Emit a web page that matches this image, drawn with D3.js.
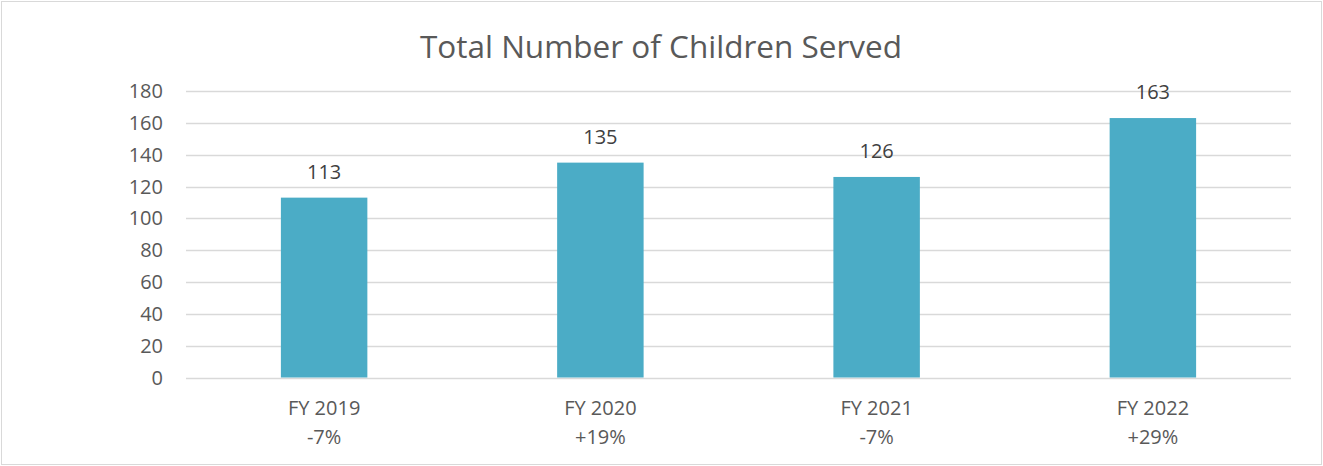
<!DOCTYPE html>
<html>
<head>
<meta charset="utf-8">
<script src="https://cdn.jsdelivr.net/npm/d3@7"></script>
<style>
  html, body { margin: 0; padding: 0; background: #fff; }
  svg { display: block; font-family: "Open Sans", sans-serif; }
</style>
</head>
<body>
<div id="chart"></div>
<script>
const categories = [`FY 2019`, `FY 2020`, `FY 2021`, `FY 2022`];
const changes = [`-7%`, `+19%`, `-7%`, `+29%`];
const children = [113, 135, 126, 163];
const yTicks = [0, 20, 40, 60, 80, 100, 120, 140, 160, 180];

const width = 1323;
const height = 466;
const margin = { top: 91, right: 32, bottom: 89, left: 186 };
const textColor = `#595959`;

const svg = d3.select(`#chart`).append(`svg`)
    .attr(`width`, width)
    .attr(`height`, height);

// chart area border
svg.append(`rect`)
    .attr(`x`, 1.5).attr(`y`, 1.5)
    .attr(`width`, width - 3).attr(`height`, height - 3)
    .attr(`fill`, `#fff`)
    .attr(`stroke`, `#d9d9d9`);

svg.append(`text`)
    .attr(`x`, 661).attr(`y`, 58)
    .attr(`text-anchor`, `middle`)
    .attr(`fill`, textColor)
    .attr(`font-size`, 31.5)
    .text(`Total Number of Children Served`);

const x = d3.scaleBand()
    .domain(categories)
    .range([margin.left, width - margin.right]);

const y = d3.scaleLinear()
    .domain([0, 180])
    .range([height - margin.bottom + 0.5, margin.top]);

const g = svg.append(`g`);

// gridlines
g.append(`g`)
    .selectAll(`line`)
    .data(yTicks)
  .enter().append(`line`)
    .attr(`x1`, margin.left)
    .attr(`x2`, width - margin.right)
    .attr(`y1`, (d) => Math.round(y(d)) + 0.5)
    .attr(`y2`, (d) => Math.round(y(d)) + 0.5)
    .attr(`stroke`, `#d9d9d9`)
    .attr(`stroke-width`, 1.3);

// y tick labels
g.append(`g`)
    .selectAll(`text`)
    .data(yTicks)
  .enter().append(`text`)
    .attr(`x`, 163)
    .attr(`y`, (d) => y(d))
    .attr(`dy`, `0.35em`)
    .attr(`text-anchor`, `end`)
    .attr(`fill`, textColor)
    .attr(`font-size`, 20)
    .text((d) => d);

const barWidth = x.bandwidth() * 0.313;

g.append(`g`)
    .selectAll(`rect`)
    .data(children)
  .enter().append(`rect`)
    .attr(`x`, (d, i) => x(categories[i]) + (x.bandwidth() - barWidth) / 2)
    .attr(`y`, (d) => y(d))
    .attr(`width`, barWidth)
    .attr(`height`, (d) => y(0) - y(d))
    .attr(`fill`, `#4bacc6`);

// value labels
g.append(`g`)
    .selectAll(`text`)
    .data(children)
  .enter().append(`text`)
    .attr(`x`, (d, i) => x(categories[i]) + x.bandwidth() / 2)
    .attr(`y`, (d) => y(d) - 19)
    .attr(`text-anchor`, `middle`)
    .attr(`fill`, `#404040`)
    .attr(`font-size`, 20)
    .text((d) => d);

// category labels, two lines each
const cat = g.append(`g`)
    .selectAll(`text`)
    .data(categories)
  .enter().append(`text`)
    .attr(`text-anchor`, `middle`)
    .attr(`fill`, textColor)
    .attr(`font-size`, 20);

cat.append(`tspan`)
    .attr(`x`, (d) => x(d) + x.bandwidth() / 2)
    .attr(`y`, 415)
    .text((d) => d);

cat.append(`tspan`)
    .attr(`x`, (d) => x(d) + x.bandwidth() / 2)
    .attr(`y`, 444)
    .text((d, i) => changes[i]);
</script>
</body>
</html>
